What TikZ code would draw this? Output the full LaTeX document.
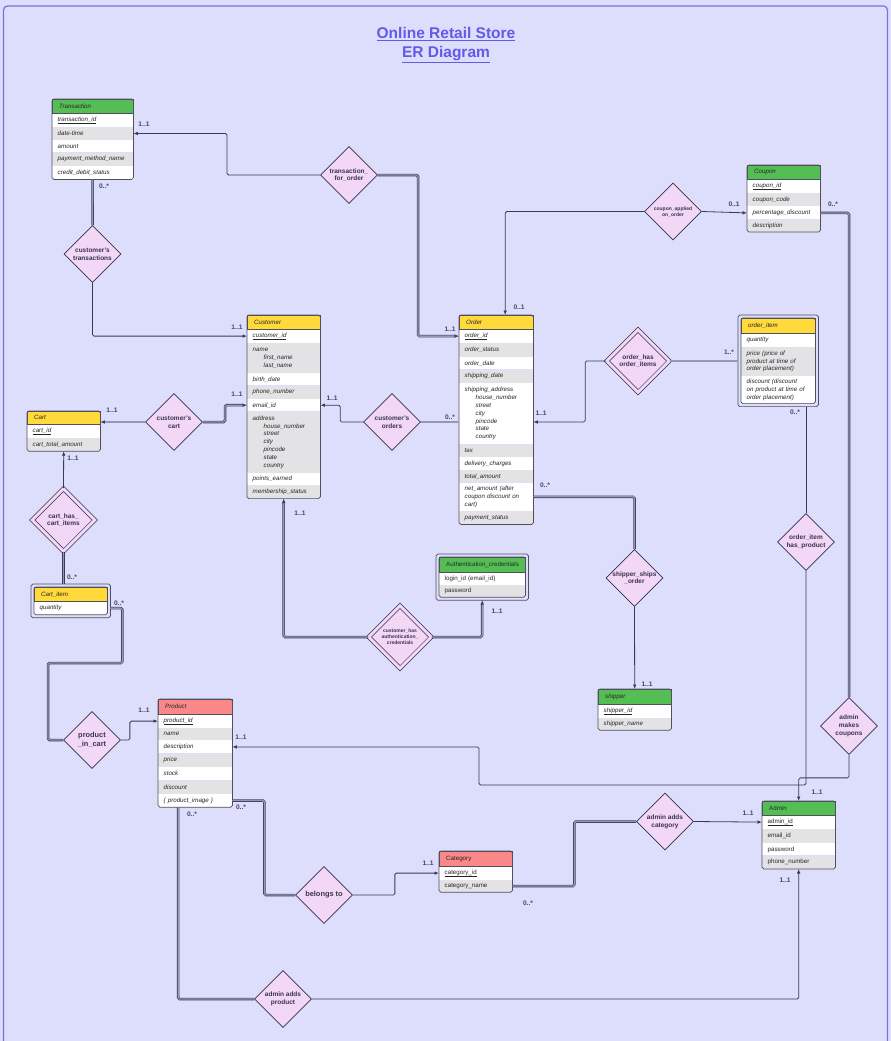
\documentclass[tikz,border=0pt]{standalone}
\usepackage{fontspec}
\setmainfont{Liberation Sans}
\usetikzlibrary{positioning,shapes.geometric,arrows.meta}

\definecolor{bgc}{RGB}{221,221,252}
\definecolor{framec}{RGB}{122,112,222}
\definecolor{titlec}{RGB}{98,90,232}
\definecolor{edge}{RGB}{80,80,92}
\definecolor{linec}{RGB}{58,58,88}
\definecolor{dblin}{RGB}{150,150,182}
\definecolor{relf}{RGB}{242,216,246}
\definecolor{rele}{RGB}{52,48,72}
\definecolor{rtext}{RGB}{58,52,82}
\definecolor{labc}{RGB}{68,68,104}
\definecolor{ylw}{RGB}{255,218,58}
\definecolor{grn}{RGB}{84,190,84}
\definecolor{sal}{RGB}{250,136,136}
\definecolor{rowg}{RGB}{227,227,229}

\newcommand{\upfnt}{\fontsize{6.2}{7.8}\selectfont}
\newcommand{\itfnt}{\fontsize{6.2}{7.8}\selectfont\itshape}
\newcommand{\relfnt}{\fontsize{6.5}{7.8}\selectfont\bfseries}
\newcommand{\smfnt}{\fontsize{5}{6}\selectfont\bfseries}
\newcommand{\lgfnt}{\fontsize{7.4}{8.8}\selectfont\bfseries}
\newcommand{\cdfnt}{\fontsize{6.6}{7}\selectfont\bfseries}
\newcommand{\subi}{\hspace*{11pt}}
\newcommand{\ul}[1]{\underline{\raisebox{0pt}[\height][0pt]{#1}}}

\tikzset{node distance=0pt,
  >={Latex[length=4.5pt,width=3.6pt]},
  hd/.style={anchor=north west, fill=#1, draw=edge, line width=0.4pt,
    inner xsep=5.5pt, inner ysep=1pt, align=left, text=black!85},
  rw/.style={fill=#1, inner xsep=5.5pt, inner ysep=1pt, align=left, text=black!85},
  frame/.style={draw=edge, line width=0.7pt, rounded corners=1.8pt},
  dia/.style={diamond, aspect=1, draw=rele, fill=relf, line width=0.7pt,
    minimum size=57pt, inner sep=0pt},
  rlab/.style={align=center, inner sep=0pt, text=rtext, font=\relfnt},
  rel/.style={dia, label={[rlab]center:{#1}}},
  srel/.style={dia, label={[rlab, font=\smfnt]center:{#1}}},
  lrel/.style={dia, label={[rlab, font=\lgfnt]center:{#1}}},
  wrel/.style={double=relf, double distance=3pt, minimum size=63pt},
  card/.style={inner sep=0pt, text=labc, font=\cdfnt},
  ln/.style={draw=linec, line width=0.8pt, rounded corners=1.5pt},
  dl/.style={ln, double=dblin, double distance=1.3pt, line width=0.6pt}
}

\begin{document}
\begin{tikzpicture}[x=1pt, y=-1pt]
\useasboundingbox (0,0) rectangle (891,1041);
\fill [bgc] (0,0) rectangle (891,1041);
\draw [framec, line width=1.2pt, rounded corners=4pt] (3.5,6) rectangle (887.5,1060);
\node (ttl) [text=titlec, font=\fontsize{15.5}{19}\selectfont\bfseries, align=center] at (446,45)
  {\underline{Online Retail Store}\\\underline{ER Diagram}};

% entities
\begin{scope}[nodes={text width=70pt, font=\itfnt}]
\node (tr0) [hd=grn, minimum height=14pt] at (52,99) {\hspace*{1.5pt}Transaction};
\node (tr1) [rw=white, minimum height=13pt, below=of tr0] {\ul{transaction\_id}};
\node (tr2) [rw=rowg, minimum height=13pt, below=of tr1] {date-time};
\node (tr3) [rw=white, minimum height=12pt, below=of tr2] {amount};
\node (tr4) [rw=rowg, minimum height=13pt, below=of tr3] {payment\_method\_name};
\node (tr5) [rw=white, minimum height=13pt, below=of tr4] {credit\_debit\_status};
\end{scope}
\draw [frame] (tr0.north west) rectangle (tr5.south east);

\begin{scope}[nodes={text width=62pt, font=\itfnt}]
\node (cu0) [hd=ylw, minimum height=14pt] at (247,315) {\hspace*{1.5pt}Customer};
\node (cu1) [rw=white, minimum height=13pt, below=of cu0] {\ul{customer\_id}};
\node (cu2) [rw=rowg, minimum height=30pt, below=of cu1] {name\\\subi first\_name\\\subi last\_name};
\node (cu3) [rw=white, minimum height=12pt, below=of cu2] {birth\_date};
\node (cu4) [rw=rowg, minimum height=13pt, below=of cu3] {phone\_number};
\node (cu5) [rw=white, minimum height=12pt, below=of cu4] {email\_id};
\node (cu6) [rw=rowg, minimum height=61pt, below=of cu5] {address\\\subi house\_number\\\subi street\\\subi city\\\subi pincode\\\subi state\\\subi country};
\node (cu7) [rw=white, minimum height=12pt, below=of cu6] {points\_earned};
\node (cu8) [rw=rowg, minimum height=13pt, below=of cu7] {membership\_status};
\end{scope}
\draw [frame] (cu0.north west) rectangle (cu8.south east);

\begin{scope}[nodes={text width=63pt, font=\itfnt}]
\node (or0) [hd=ylw, minimum height=14pt] at (459,315) {\hspace*{1.5pt}Order};
\node (or1) [rw=white, minimum height=13pt, below=of or0] {\ul{order\_id}};
\node (or2) [rw=rowg, minimum height=14pt, below=of or1] {order\_status};
\node (or3) [rw=white, minimum height=12pt, below=of or2] {order\_date};
\node (or4) [rw=rowg, minimum height=13pt, below=of or3] {shipping\_date};
\node (or5) [rw=white, minimum height=61pt, below=of or4] {shipping\_address\\\subi house\_number\\\subi street\\\subi city\\\subi pincode\\\subi state\\\subi country};
\node (or6) [rw=rowg, minimum height=12pt, below=of or5] {tax};
\node (or7) [rw=white, minimum height=13pt, below=of or6] {delivery\_charges};
\node (or8) [rw=rowg, minimum height=12pt, below=of or7] {total\_amount};
\node (or9) [rw=white, minimum height=28pt, below=of or8] {net\_amount (after\\coupon discount on\\cart)};
\node (or10) [rw=rowg, minimum height=13pt, below=of or9] {payment\_status};
\end{scope}
\draw [frame] (or0.north west) rectangle (or10.south east);

\begin{scope}[nodes={text width=62pt, font=\itfnt}]
\node (co0) [hd=grn, minimum height=14pt] at (747,165) {\hspace*{1.5pt}Coupon};
\node (co1) [rw=white, minimum height=13pt, below=of co0] {\ul{coupon\_id}};
\node (co2) [rw=rowg, minimum height=13pt, below=of co1] {coupon\_code};
\node (co3) [rw=white, minimum height=13pt, below=of co2] {percentage\_discount};
\node (co4) [rw=rowg, minimum height=12pt, below=of co3] {description};
\end{scope}
\draw [frame] (co0.north west) rectangle (co4.south east);

\begin{scope}[nodes={text width=63pt, font=\itfnt}]
\node (oi0) [hd=ylw, minimum height=15pt] at (741,318) {\hspace*{1.5pt}order\_item};
\node (oi1) [rw=white, minimum height=13pt, below=of oi0] {quantity};
\node (oi2) [rw=rowg, minimum height=29pt, below=of oi1] {price (price of\\product at time of\\order placement)};
\node (oi3) [rw=white, minimum height=27pt, below=of oi2] {discount (discount\\on product at time of\\order placement)};
\end{scope}
\draw [frame] (oi0.north west) rectangle (oi3.south east);
\draw [frame] ([shift={(-3pt,3pt)}]oi0.north west) rectangle ([shift={(3pt,-3pt)}]oi3.south east);

\begin{scope}[nodes={text width=62pt, font=\itfnt}]
\node (ca0) [hd=ylw, minimum height=13pt] at (27,411) {\hspace*{1.5pt}Cart};
\node (ca1) [rw=white, minimum height=13pt, below=of ca0] {\ul{cart\_id}};
\node (ca2) [rw=rowg, minimum height=13pt, below=of ca1] {cart\_total\_amount};
\end{scope}
\draw [frame] (ca0.north west) rectangle (ca2.south east);

\begin{scope}[nodes={text width=62pt, font=\itfnt}]
\node (ci0) [hd=ylw, minimum height=14pt] at (34,587) {\hspace*{1.5pt}Cart\_item};
\node (ci1) [rw=white, minimum height=13pt, below=of ci0] {quantity};
\end{scope}
\draw [frame] (ci0.north west) rectangle (ci1.south east);
\draw [frame] ([shift={(-3pt,3pt)}]ci0.north west) rectangle ([shift={(3pt,-3pt)}]ci1.south east);

\begin{scope}[nodes={text width=75pt, font=\upfnt}]
\node (au0) [hd=grn, minimum height=15pt] at (439,557) {\hspace*{1.5pt}Authentication\_credentials};
\node (au1) [rw=white, minimum height=12pt, below=of au0] {login\_id (email\_id)};
\node (au2) [rw=rowg, minimum height=12pt, below=of au1] {password};
\end{scope}
\draw [frame] (au0.north west) rectangle (au2.south east);
\draw [frame] ([shift={(-3pt,3pt)}]au0.north west) rectangle ([shift={(3pt,-3pt)}]au2.south east);

\begin{scope}[nodes={text width=63pt, font=\itfnt}]
\node (pr0) [hd=sal, minimum height=15pt] at (158,699) {\hspace*{1.5pt}Product};
\node (pr1) [rw=white, minimum height=13pt, below=of pr0] {\ul{product\_id}};
\node (pr2) [rw=rowg, minimum height=12pt, below=of pr1] {name};
\node (pr3) [rw=white, minimum height=13pt, below=of pr2] {description};
\node (pr4) [rw=rowg, minimum height=13pt, below=of pr3] {price};
\node (pr5) [rw=white, minimum height=13pt, below=of pr4] {stock};
\node (pr6) [rw=rowg, minimum height=13pt, below=of pr5] {discount};
\node (pr7) [rw=white, minimum height=13pt, below=of pr6] {\{ product\_image \}};
\end{scope}
\draw [frame] (pr0.north west) rectangle (pr7.south east);

\begin{scope}[nodes={text width=62pt, font=\itfnt}]
\node (sh0) [hd=grn, minimum height=15pt] at (598,689) {\hspace*{1.5pt}shipper};
\node (sh1) [rw=white, minimum height=13pt, below=of sh0] {\ul{shipper\_id}};
\node (sh2) [rw=rowg, minimum height=12pt, below=of sh1] {shipper\_name};
\end{scope}
\draw [frame] (sh0.north west) rectangle (sh2.south east);

\begin{scope}[nodes={text width=62pt, font=\upfnt}]
\node (cat0) [hd=sal, minimum height=15pt] at (439,851) {\hspace*{1.5pt}Category};
\node (cat1) [rw=white, minimum height=13pt, below=of cat0] {\ul{category\_id}};
\node (cat2) [rw=rowg, minimum height=12pt, below=of cat1] {category\_name};
\end{scope}
\draw [frame] (cat0.north west) rectangle (cat2.south east);

\begin{scope}[nodes={text width=62pt, font=\upfnt}]
\node (ad0) [hd=grn, minimum height=14pt] at (762,801) {\hspace*{1.5pt}Admin};
\node (ad1) [rw=white, minimum height=13pt, below=of ad0] {\ul{admin\_id}};
\node (ad2) [rw=rowg, minimum height=14pt, below=of ad1] {email\_id};
\node (ad3) [rw=white, minimum height=12pt, below=of ad2] {password};
\node (ad4) [rw=rowg, minimum height=13pt, below=of ad3] {phone\_number};
\end{scope}
\draw [frame] (ad0.north west) rectangle (ad4.south east);

% relationships
\node (tfo) [rel={transaction\_\\for\_order}] at (349,175) {};
\node (ctr) [rel={customer's\\transactions}] at (92.5,254) {};
\node (cao) [srel={coupon\_applied\\on\_order}] at (673,211.5) {};
\node (ohi) [rel={order\_has\\order\_items}, wrel] at (638,361) {};
\node (cor) [rel={customer's\\orders}] at (392,422) {};
\node (cca) [rel={customer's\\cart}] at (174,422) {};
\node (chc) [rel={cart\_has\_\\cart\_items}, wrel] at (63.5,520) {};
\node (cha) [srel={customer\_has\\authentication\_\\credentials}, wrel] at (400,637) {};
\node (sso) [rel={shipper\_ships\\\_order}] at (634.5,578) {};
\node (ihp) [rel={order\_item\\has\_product}] at (806,542) {};
\node (amc) [rel={admin\\makes\\coupons}] at (849,726) {};
\node (aac) [rel={admin adds\\category}] at (665,821.5) {};
\node (blt) [lrel={belongs to}] at (324,895) {};
\node (pic) [lrel={product\\\_in\_cart}] at (92,740) {};
\node (aap) [rel={admin adds\\product}] at (283,999) {};

% connectors
\draw [ln, ->] (tfo.west) -- (227,175) |- (tr2.east);
\draw [dl, ->] (tfo.east) -- (418,175) |- (or1.west);
\draw [dl] (tr5.south) -- (ctr.north);
\draw [ln, ->] (ctr.south) |- (cu1.west);
\draw [dl, ->] (cca.east) -- (225,422) |- (cu5.west);
\draw [dl, ->] (cca.west) -- (cca.west -| ca0.east);
\draw [ln, ->] (chc.north) -- (ca2.south);
\draw [dl, shorten >=3pt] (chc.south) -- (chc.south |- ci0.north);
\draw [dl, shorten <=3pt] (ci1.east) -- ++(15,0) |- (48,663) |- (pic.west);
\draw [ln, ->] (pic.east) -- ++(9,0) |- (pr1.west);
\draw [dl, ->] (cha.west) -| (cu8.south);
\draw [dl, ->, shorten >=3pt] (cha.east) -| (au2.south);
\draw [ln, ->] (cor.west) -- ++(-23,0) |- (cu5.east);
\draw [dl] (cor.east) -- (cor.east -| or5.west);
\draw [ln, ->] (cao.west) -| ([xshift=9pt]or0.north);
\draw [ln, ->] (cao.east) -- (co3.west);
\draw [ln, ->] (ohi.west) -- ++(-21,0) |- (cor -| or5.east);
\draw [dl, shorten >=3pt] (ohi.east) -- (ohi.east -| oi0.west);
\draw [ln, shorten >=3pt] (ihp.north) -- (ihp.north |- oi3.south);
\draw [ln, ->] (ihp.south) -- (806,785) -- (479,785) |- (pr3.east);
\draw [dl] (or9.east) -| (sso.north);
\draw [ln, ->] (sso.south) -- (sh0.north);
\draw [dl] (co3.east) -| (amc.north);
\draw [ln, ->] (amc.south) -- ++(0,23) -| (ad0.north);
\draw [dl] (pr7.east) -- ++(32,0) |- (blt.west);
\draw [ln, ->] (blt.east) -- ++(42,0) |- (cat1.west);
\draw [dl] ([xshift=-17pt]pr7.south) |- (aap.west);
\draw [ln, ->] (aap.east) -| (ad4.south);
\draw [dl] (cat2.east) -- ++(62,0) |- (aac.west);
\draw [ln, ->] (aac.east) -- (ad1.west);

% cardinalities
\foreach \x/\y/\lb [count=\i] in {144/124/1..1, 104/186/0..*, 237/327/1..1, 237/394/1..1,
  332/398/1..1, 300/513/1..1, 519/307/0..1, 450/329/1..1, 450/417/0..*, 541/413/1..1,
  545/485/0..*, 734/204/0..1, 833/204/0..*, 729/352/1..*, 795/412/0..*, 112/410/1..1,
  73/458/1..1, 72/577/0..*, 119/603/0..*, 497/611/1..1, 144/710/1..1, 241/737/1..1,
  192/814/0..*, 241/807/0..*, 647/684/1..1, 817/792/1..1, 748/813/1..1, 785/880/1..1,
  428/863/1..1, 528/903/0..*}
  \node (k\i) [card] at (\x,\y) {\lb};
\end{tikzpicture}
\end{document}
